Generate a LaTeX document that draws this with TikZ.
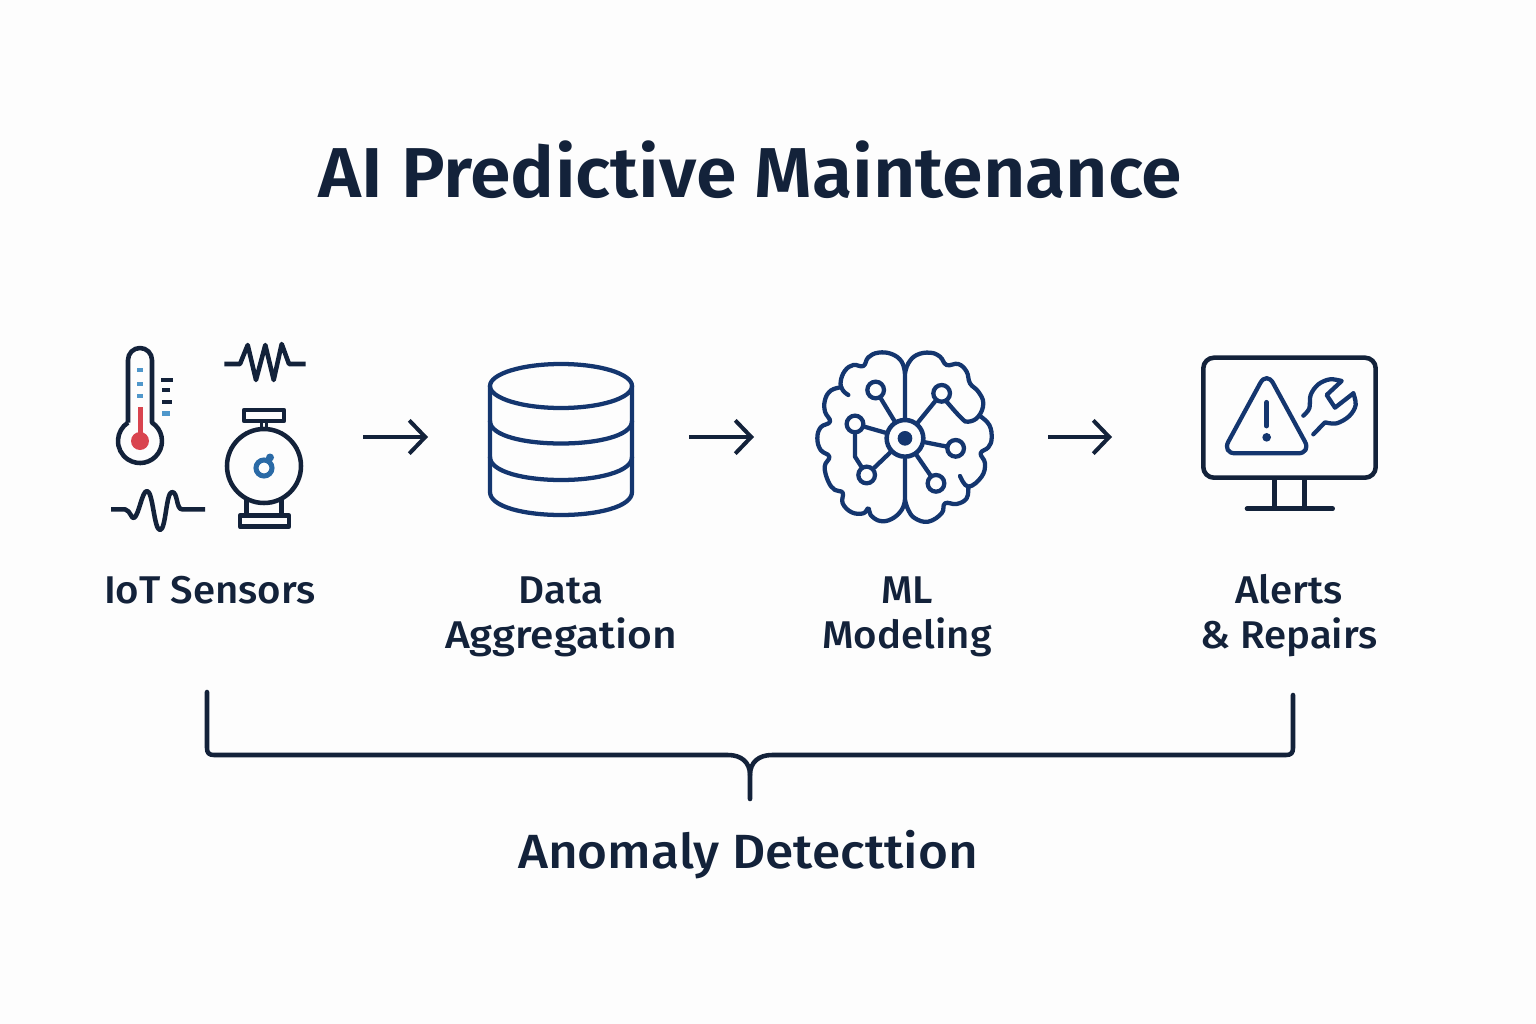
\documentclass[tikz,border=0pt]{standalone}
\usepackage{fontspec}
\setmainfont{Fira Sans}
\newfontfamily\titlefont[FakeStretch=1.04]{Fira Sans SemiBold}
\newfontfamily\labelfont[FakeStretch=1.04]{Fira Sans Medium}
\newfontfamily\wideFont[FakeStretch=1.1]{Fira Sans Medium}
\newfontfamily\braceFont[FakeStretch=1.07]{Fira Sans Medium}
\usetikzlibrary{arrows.meta}
\definecolor{inkdark}{HTML}{13223A}
\definecolor{inknavy}{HTML}{14366F}
\definecolor{inkred}{HTML}{D9444F}
\definecolor{inkblue}{HTML}{2A6AA6}
\definecolor{inksky}{HTML}{4F97CB}
\definecolor{paper}{HTML}{FDFDFD}
\tikzset{
  darkline/.style={draw=inkdark,line width=3.4pt,line join=round},
  navyline/.style={draw=inknavy,line width=3.2pt,line join=round,line cap=round},
  flowarrow/.style={draw=inkdark,line width=3pt,-{Straight Barb[length=12pt,width=25pt,line width=3pt]}},
  stepname/.style={text=inkdark,align=center,font=\labelfont\fontsize{29}{33.75}\selectfont},
  brainnode/.style={circle,draw=inknavy,line width=3.2pt,minimum size=12.5pt,inner sep=0pt},
}
\begin{document}
\begin{tikzpicture}[x=0.75pt,y=0.75pt,yscale=-1,xscale=1]
\useasboundingbox (0,0) rectangle (1536,1024);
\fill [paper] (0,0) rectangle (1536,1024);

% Text Node
\node [text=inkdark,font=\titlefont\fontsize{53}{60}\selectfont] (title) at (750.5,170) {AI Predictive Maintenance};

%Thermometer
\draw [darkline] (128,422.6) -- (128,360) arc [start angle=180,end angle=360,radius=12] -- (152,422.6) arc [start angle=-56.9,end angle=236.9,radius=22] ;
\fill [inkred] (137.6,407) rectangle (142.6,433) ;
\fill [inkred] (140,441) circle [radius=9] ;
\foreach \tickY in {370,384,396}
  \fill [inksky] (137,\tickY-2) rectangle (143,\tickY+2) ;
\fill [inkdark] (161,378) rectangle (173,382) ;
\fill [inkdark] (162,388) rectangle (170,392) ;
\fill [inkdark] (162,400) rectangle (172,404) ;
\fill [inksky] (162,411) rectangle (170,415.5) ;

%Resistor trace
\draw [darkline] (224.3,364) -- (240,364) -- (247.7,345) -- (256,380) -- (265.3,345) -- (273.7,380) -- (281.7,344) -- (289,364) -- (305.7,364) ;
%Wave trace
\draw [darkline] (111,509.3) -- (125,509.3) .. controls (131,511) and (131,519) .. (134,518) .. controls (139,515) and (142,491) .. (147,491) .. controls (153,491) and (154,530) .. (160,530) .. controls (166,530) and (166,492) .. (172,492) .. controls (178,492) and (176,509.3) .. (182,509.3) -- (205,509.3) ;

%Pump
\draw [darkline] (264,466) circle [radius=37] ;
\draw [darkline] (244,410) rectangle (284,421) ;
\draw [darkline,line width=2pt] (261.5,421) -- (261.5,429) (266.5,421) -- (266.5,429) ;
\draw [darkline] (246.7,498) -- (246.7,515.5) (281.7,498) -- (281.7,515.5) ;
\draw [darkline] (240,515.5) rectangle (289,526.7) ;
\draw [inkblue,line width=3.8pt] (264,468) circle [radius=8] ;
\fill [inkblue] (270,457.5) circle [radius=4] ;

%Database
\draw [navyline] (490,386) -- (490,492) .. controls (490,507) and (525,515) .. (561,515) .. controls (597,515) and (632,507) .. (632,492) -- (632,386) ;
\draw [navyline] (561,386) circle [x radius=71,y radius=22] ;
\draw [navyline] (490,421) .. controls (490,436) and (525,443.5) .. (561,443.5) .. controls (597,443.5) and (632,436) .. (632,421) ;
\draw [navyline] (490,457) .. controls (490,472) and (525,480) .. (561,480) .. controls (597,480) and (632,472) .. (632,457) ;

%Brain
\begin{scope}[shift={(800,340)},scale=0.3333]
\draw [navyline] plot [smooth,tension=0.7] coordinates {(315,100) (305,65) (275,42) (235,38) (205,52) (190,78) (160,75) (135,92) (122,125) (128,150) (145,165)} ;
\draw [navyline] plot [smooth,tension=0.7] coordinates {(122,142) (92,152) (75,180) (75,215) (90,245) (62,262) (52,295) (62,330) (88,350) (74,380) (85,425) (105,450) (128,458) (128,490) (155,517) (190,520) (205,505) (212,525) (240,543) (275,537) (305,510) (315,480)} ;
\draw [navyline] plot [smooth,tension=0.7] coordinates {(315,100) (325,70) (350,45) (390,38) (420,50) (440,75) (475,72) (500,95) (510,130) (535,155) (550,190) (535,230) (505,245) (485,235) (440,185)} ;
\draw [navyline] plot [smooth,tension=0.7] coordinates {(540,228) (568,255) (575,295) (565,322) (542,340) (555,370) (545,410) (505,440) (480,408)} ;
\draw [navyline] plot [smooth,tension=0.7] coordinates {(505,440) (500,475) (470,492) (435,490) (425,520) (385,545) (345,535) (325,510) (315,480)} ;
\node [circle,draw=inknavy,line width=3.4pt,minimum size=27.5pt,inner sep=0pt] (hub) at (315,295) {};
\fill [inknavy] (hub) circle [radius=22] ;
\node [brainnode] (cellA) at (227,150) {};
\node [brainnode] (cellB) at (425,160) {};
\node [brainnode] (cellC) at (165,252) {};
\node [brainnode] (cellD) at (467,325) {};
\node [brainnode] (cellE) at (200,405) {};
\node [brainnode] (cellF) at (408,430) {};
\foreach \cellName in {cellA,cellB,cellC,cellD,cellE,cellF}
  \draw [navyline] (\cellName) -- (hub) ;
\draw [navyline] (hub.north) -- (315,100) (hub.south) -- (315,480) ;
\coordinate (elbow) at (165,350) ;
\draw [navyline] (cellC) -- (elbow) -- (cellE) ;
\end{scope}

%Monitor
\draw [darkline,rounded corners=8pt] (1203.3,357.7) rectangle (1375.7,477.7) ;
\draw [darkline] (1274.3,477.7) -- (1274.3,508.7) (1304.3,477.7) -- (1304.3,508.7) ;
\draw [darkline,line cap=round] (1247,508.7) -- (1332.7,508.7) ;
\begin{scope}[shift={(1190,345)},scale=0.3333]
\draw [navyline,rounded corners=10pt] (230,79) -- (96,325) -- (364,325) -- cycle ;
\draw [navyline,line width=3.6pt] (230,172) -- (230,243) ;
\fill [inknavy] (230,277) circle [radius=13] ;
\draw [navyline] plot [smooth,tension=0.6] coordinates {(340,212) (358,190) (362,150) (385,118) (420,103) (455,108)} -- (410,150) -- (435,188) -- (490,145) ;
\draw [navyline] plot [smooth,tension=0.6] coordinates {(490,145) (497,180) (478,213) (440,235) (405,232)} -- (370,268) ;
\end{scope}

%Arrows
\coordinate (sensorsOut) at (363,437) ;
\coordinate (storeIn) at (428,437) ;
\coordinate (storeOut) at (689,437) ;
\coordinate (brainIn) at (754,437) ;
\coordinate (brainOut) at (1048,437) ;
\coordinate (screenIn) at (1112,437) ;
\draw [flowarrow] (sensorsOut) -- (storeIn) ;
\draw [flowarrow] (storeOut) -- (brainIn) ;
\draw [flowarrow] (brainOut) -- (screenIn) ;

% Text Node
\node [stepname] (sensorsLabel) at (210,590) {IoT Sensors};
% Text Node
\node [stepname] (dataLabel) at (561,616.5) {Data\\{\wideFont Aggregation}};
% Text Node
\node [stepname] (modelLabel) at (907,616.5) {ML\\Modeling};
% Text Node
\node [stepname] (alertsLabel) at (1289,615.5) {Alerts\\\& Repairs};

%Brace
\coordinate (braceLeft) at (207,692) ;
\coordinate (braceRight) at (1293,695) ;
\coordinate (braceTip) at (750,799) ;
\draw [darkline,line cap=round] (braceLeft) -- (207,748) .. controls (207,753) and (209,755) .. (214,755) -- (728,755) .. controls (741,755) and (750,762) .. (750,775) -- (braceTip) ;
\draw [darkline,line cap=round] (braceRight) -- (1293,748) .. controls (1293,753) and (1291,755) .. (1286,755) -- (772,755) .. controls (759,755) and (750,762) .. (750,775) ;

% Text Node
\node [text=inkdark,font=\braceFont\fontsize{36}{40}\selectfont] (braceLabel) at (748,855) {Anomaly Detecttion};
\end{tikzpicture}
\end{document}
